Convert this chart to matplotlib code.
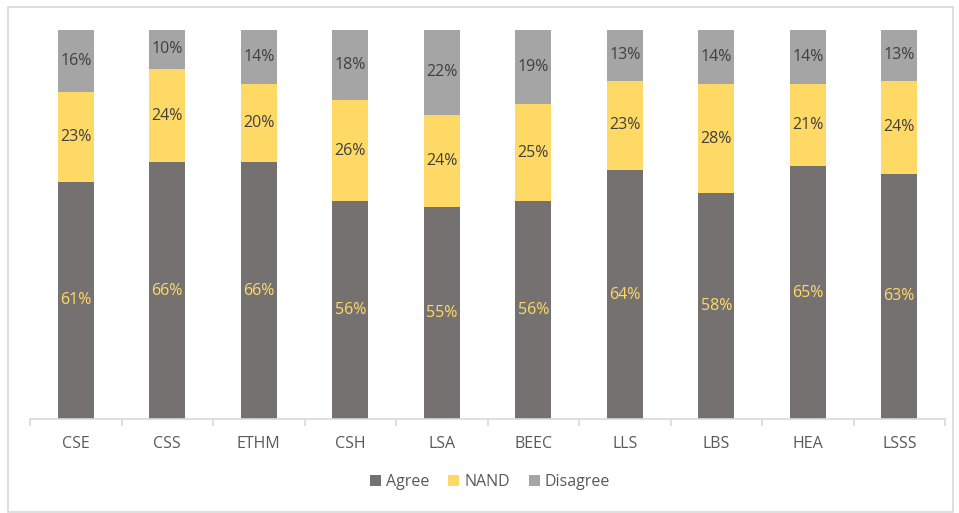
import matplotlib.pyplot as plt
import numpy as np
from matplotlib.patches import Rectangle

categories = ['CSE', 'CSS', 'ETHM', 'CSH', 'LSA', 'BEEC', 'LLS', 'LBS', 'HEA', 'LSSS']
agree = [61, 66, 66, 56, 55, 56, 64, 58, 65, 63]
nand = [23, 24, 20, 26, 24, 25, 23, 28, 21, 24]
disagree = [16, 10, 14, 18, 22, 19, 13, 14, 14, 13]

plt.rcParams['font.family'] = ['Open Sans', 'DejaVu Sans']

c_agree = '#767171'
c_nand = '#FFD966'
c_dis = '#A5A5A5'
fs = 11.5

fig = plt.figure(figsize=(9.59, 5.13), dpi=100)
fig.patches.append(Rectangle((8 / 959, 1 / 513), 945 / 959, 505 / 513, transform=fig.transFigure,
                             fill=False, edgecolor='#D9D9D9', linewidth=1.2))
ax = fig.add_axes([30 / 959, 1 - 419 / 513, 915 / 959, 389 / 513])

x = np.arange(len(categories))
a = np.array(agree, float)
n = np.array(nand, float)
d = np.array(disagree, float)
tot = a + n + d
a_h, n_h, d_h = a / tot, n / tot, d / tot

w = 0.39
ax.bar(x, a_h, w, color=c_agree, label='Agree')
ax.bar(x, n_h, w, bottom=a_h, color=c_nand, label='NAND')
ax.bar(x, d_h, w, bottom=a_h + n_h, color=c_dis, label='Disagree')

for i in range(len(x)):
    ax.text(x[i], a_h[i] / 2, f'{agree[i]}%', ha='center', va='center', fontsize=fs, color='#FFD966')
    ax.text(x[i], a_h[i] + n_h[i] / 2, f'{nand[i]}%', ha='center', va='center', fontsize=fs, color='#404040')
    ax.text(x[i], a_h[i] + n_h[i] + d_h[i] / 2, f'{disagree[i]}%', ha='center', va='center', fontsize=fs, color='#404040')

ax.set_xlim(-0.5, len(x) - 0.5)
ax.set_ylim(0, 1)
for s in ['top', 'right', 'left']:
    ax.spines[s].set_visible(False)
ax.spines['bottom'].set_color('#D9D9D9')
ax.spines['bottom'].set_linewidth(1.2)
ax.set_yticks([])
ax.set_xticks(np.arange(-0.5, len(x), 1))
ax.set_xticklabels([])
ax.tick_params(axis='x', which='major', length=5, color='#D9D9D9', width=1.2)
ax.set_xticks(x, minor=True)
ax.set_xticklabels(categories, minor=True)
ax.tick_params(axis='x', which='minor', length=0, pad=12, labelsize=fs, labelcolor='#595959')

fig.legend(loc='center', bbox_to_anchor=(490 / 959, 1 - 482 / 513), ncol=3, frameon=False,
           fontsize=fs, labelcolor='#595959', handlelength=0.7, handleheight=0.7,
           handletextpad=0.3, columnspacing=1.2)

fig.savefig('out.png', dpi=100)
